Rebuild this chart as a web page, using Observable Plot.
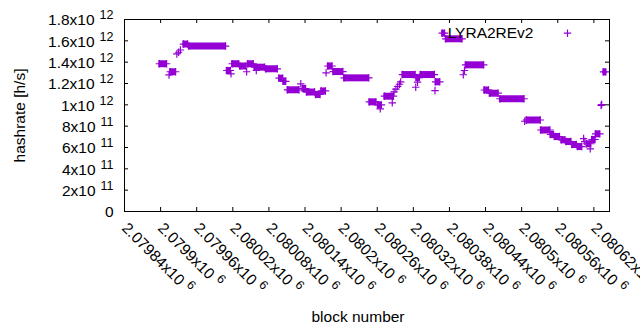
<!DOCTYPE html>
<html><head><meta charset="utf-8">
<script src="https://cdn.jsdelivr.net/npm/d3@7"></script>
<script src="https://cdn.jsdelivr.net/npm/@observablehq/plot@0.6"></script>
<style>body{margin:0;background:#fff;} svg{display:block;}</style>
</head><body><div id="chart"></div>
<script>
const seriesName = "LYRA2REv2";
const xLabel = "block number";
const yLabel = "hashrate [h/s]";

// runs of consecutive blocks sharing one hashrate value (start == end for single blocks)
const blockStart = [2079898,2079914,2079916,2079927,2079930,2079933,2079938,2079947,2080010,2080017,
  2080019,2080032,2080043,2080045,2080056,2080059,2080075,2080097,2080104,2080111,
  2080133,2080136,2080143,2080158,2080167,2080175,2080178,2080187,2080205,2080247,
  2080261,2080265,2080272,2080285,2080288,2080291,2080294,2080297,2080299,2080302,2080324,
  2080325,2080327,2080332,2080356,2080357,2080368,2080374,2080403,2080405,2080407,
  2080438,2080447,2080464,2080505,2080508,2080532,2080548,2080555,2080566,2080574,
  2080584,2080593,2080603,2080605,2080608,2080614,2080617,2080623,2080632,2080633,2080636];
const blockEnd = [2079910,2079914,2079925,2079927,2079930,2079933,2079945,2080008,2080016,2080017,
  2080030,2080042,2080043,2080054,2080073,2080059,2080094,2080103,2080108,2080130,
  2080133,2080141,2080156,2080165,2080174,2080175,2080185,2080203,2080246,2080258,
  2080267,2080265,2080287,2080285,2080288,2080291,2080294,2080297,2080299,2080323,2080324,
  2080330,2080327,2080355,2080356,2080364,2080372,2080401,2080403,2080405,2080437,
  2080445,2080461,2080504,2080505,2080531,2080547,2080553,2080563,2080572,2080582,
  2080591,2080600,2080603,2080605,2080615,2080614,2080622,2080630,2080632,2080633,2080640];
const hashrate = [1.385e12,1.28e12,1.31e12,1.477e12,1.493e12,1.514e12,1.570e12,1.551e12,1.322e12,1.29e12,
  1.385e12,1.364e12,1.31e12,1.385e12,1.353e12,1.322e12,1.338e12,1.25e12,1.22e12,1.141e12,
  1.197e12,1.153e12,1.12e12,1.097e12,1.13e12,1.30e12,1.364e12,1.312e12,1.253e12,1.028e12,
  1.0e12,0.963e12,1.081e12,1.019e12,1.122e12,1.147e12,1.172e12,1.193e12,1.215e12,1.284e12,1.165e12,
  1.256e12,1.212e12,1.284e12,1.134e12,1.216e12,1.672e12,1.619e12,1.282e12,1.322e12,1.375e12,
  1.139e12,1.109e12,1.057e12,0.846e12,0.858e12,0.764e12,0.722e12,0.703e12,0.672e12,0.656e12,
  0.628e12,0.609e12,0.684e12,0.656e12,0.635e12,0.588e12,0.675e12,0.728e12,0.994e12,1.003e12,1.309e12];

const xDomain = [2079840, 2080646];
const yDomain = [0, 1.8e12];
const xTicks = [2079840,2079900,2079960,2080020,2080080,2080140,2080200,2080260,2080320,2080380,2080440,2080500,2080560,2080620];
const xTickLabels = ["2.07984x10^6","2.0799x10^6","2.07996x10^6","2.08002x10^6","2.08008x10^6","2.08014x10^6","2.0802x10^6",
  "2.08026x10^6","2.08032x10^6","2.08038x10^6","2.08044x10^6","2.0805x10^6","2.08056x10^6","2.08062x10^6"];
const yTicks = [0,2e11,4e11,6e11,8e11,1e12,1.2e12,1.4e12,1.6e12,1.8e12];
const yTickLabels = ["0","2x10^11","4x10^11","6x10^11","8x10^11","1x10^12","1.2x10^12","1.4x10^12","1.6x10^12","1.8x10^12"];

const color = "#9400d3";
const W = 640, H = 330, mL = 124, mR = 31, mT = 19, mB = 119;
const fw = W - mL - mR, fh = H - mT - mB;
const FS = 15.5;

const plus = {draw(ctx, size) { const r = Math.sqrt(size / Math.PI);
  ctx.moveTo(-r, 0); ctx.lineTo(r, 0); ctx.moveTo(0, -r); ctx.lineTo(0, r); }};

const runs = blockStart.map((s, i) => ({start: s, end: blockEnd[i], value: hashrate[i]}));
const spans = runs.filter(r => r.end > r.start);
const points = runs.flatMap(r => r.end > r.start
  ? [{b: r.start, v: r.value}, {b: r.end, v: r.value}] : [{b: r.start, v: r.value}]);

const chart = Plot.plot({
  width: W, height: H, marginLeft: mL, marginRight: mR, marginTop: mT, marginBottom: mB,
  style: {fontFamily: "'Liberation Sans', Arial, sans-serif", fontSize: FS + "px", color: "#000", background: "#fff", overflow: "visible"},
  x: {domain: xDomain},
  y: {domain: yDomain},
  marks: [
    Plot.ruleY(spans, {x1: "start", x2: "end", y: "value", stroke: color, strokeWidth: 7, insetLeft: -0.6, insetRight: -0.6}),
    Plot.dot(points, {x: "b", y: "v", symbol: plus, r: 3.7, stroke: color, strokeWidth: 1.2, fill: "none"}),
    Plot.tickY(yTicks, {y: d => d, stroke: "#000", insetRight: fw - 4}),
    Plot.tickY(yTicks, {y: d => d, stroke: "#000", insetLeft: fw - 4}),
    Plot.tickX(xTicks, {x: d => d, stroke: "#000", insetTop: fh - 4}),
    Plot.tickX(xTicks, {x: d => d, stroke: "#000", insetBottom: fh - 4}),
    Plot.frame({stroke: "#000"}),
    Plot.axisY({ticks: yTicks, tickSize: 0, tickPadding: 11, label: null, fontSize: FS, dy: 1,
      tickFormat: d => yTickLabels[yTicks.indexOf(d)]}),
    Plot.axisX({ticks: xTicks, tickSize: 0, tickPadding: 14, label: null, fontSize: FS, tickRotate: 45,
      textAnchor: "start", lineAnchor: "middle", tickFormat: d => xTickLabels[xTicks.indexOf(d)]}),
    Plot.text([yLabel], {frameAnchor: "left", dx: -100, rotate: -90, textAnchor: "middle", lineAnchor: "bottom", fontSize: FS}),
    Plot.text([xLabel], {frameAnchor: "bottom", dx: -9, dy: 110, textAnchor: "middle", lineAnchor: "bottom", fontSize: FS}),
    Plot.text([seriesName], {frameAnchor: "top-right", dx: -76, dy: 18, textAnchor: "end", lineAnchor: "bottom", fontSize: FS}),
    Plot.dot([seriesName], {frameAnchor: "top-right", dx: -42, dy: 13.7, symbol: plus, r: 3.7, stroke: color, strokeWidth: 1.2, fill: "none"})
  ]
});

d3.select(chart).selectAll("text").each(function() {
  const t = this.textContent;
  if (t.includes("^")) {
    const [m, e] = t.split("^");
    this.textContent = m;
    d3.select(this).append("tspan").attr("dx", 5).attr("dy", -6).attr("font-size", 12.5).text(e);
  }
});
document.getElementById("chart").appendChild(chart);
</script>
</body></html>
